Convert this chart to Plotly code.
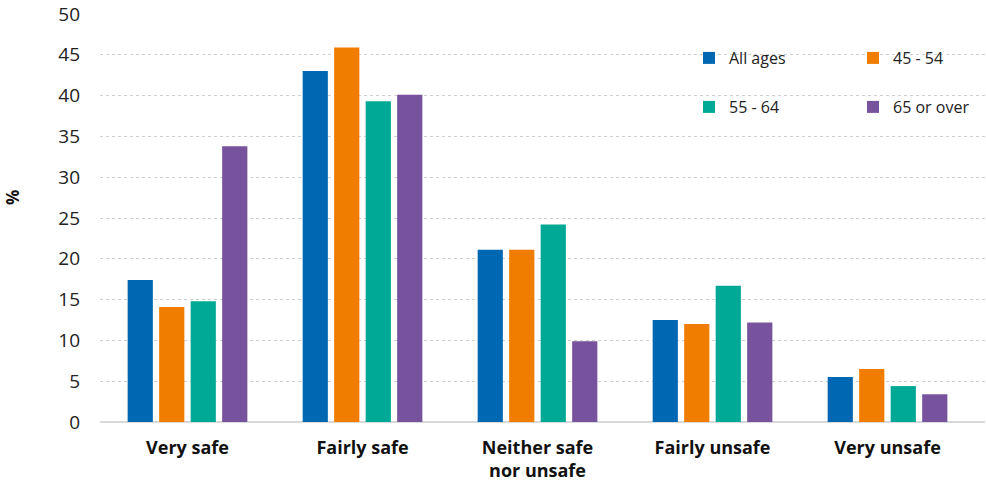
import plotly.graph_objects as go

categories = ["Very safe", "Fairly safe", "Neither safe<br>nor unsafe", "Fairly unsafe", "Very unsafe"]
all_ages = [17.4, 43.0, 21.1, 12.5, 5.5]
age_45_54 = [14.1, 45.9, 21.1, 12.0, 6.5]
age_55_64 = [14.8, 39.3, 24.2, 16.7, 4.4]
age_65_over = [33.8, 40.1, 9.9, 12.2, 3.4]
y_ticks = [0, 5, 10, 15, 20, 25, 30, 35, 40, 45, 50]

series = [
    ("All ages", all_ages, "#0068b3", "legend"),
    ("45 - 54", age_45_54, "#f07d00", "legend2"),
    ("55 - 64", age_55_64, "#00a896", "legend3"),
    ("65 or over", age_65_over, "#76539c", "legend4"),
]

FONT = "Open Sans"
W, H = 986, 481
ml, mr, mt, mb = 100, 1, 14, 59
PW, PH = W - ml - mr, H - mt - mb

fig = go.Figure()
for name, vals, color, leg in series:
    fig.add_trace(go.Bar(
        x=categories, y=vals, name=name, legend=leg,
        marker=dict(color=color, line=dict(width=0)),
    ))

leg_font = dict(family=FONT, size=16, color="#222222")
# legend positions in pixels (left edge, centre y)
leg_pos = {"legend": (689, 58), "legend2": (853, 58), "legend3": (689, 107), "legend4": (853, 107)}
legends = {}
for key, (px, py) in leg_pos.items():
    legends[key] = dict(
        xref="paper", yref="paper", x=(px - ml) / PW, y=(H - mb - py) / PH,
        xanchor="left", yanchor="middle", orientation="v",
        bgcolor="rgba(0,0,0,0)", font=leg_font, itemclick=False,
    )

fig.update_layout(
    width=W, height=H,
    margin=dict(l=ml, r=mr, t=mt, b=mb),
    paper_bgcolor="white", plot_bgcolor="white",
    barmode="group", bargap=0.28, bargroupgap=0.2,
    font=dict(family=FONT, size=17, color="#222222"),
    showlegend=True,
    **legends,
    xaxis=dict(
        range=[-0.5, 4.557], showgrid=False, showline=False, zeroline=False,
        ticks="", ticklabelstandoff=13, automargin=False,
        tickfont=dict(family=FONT, size=18, color="#111111", weight="bold"),
        fixedrange=True,
    ),
    yaxis=dict(
        range=[0, 50], tickvals=y_ticks, showgrid=True,
        gridcolor="#cfcfcf", griddash="dot", gridwidth=1,
        zeroline=True, zerolinecolor="#d9d9d9", zerolinewidth=2,
        showline=False, ticks="", ticklabelstandoff=19, automargin=False,
        tickfont=dict(family=FONT, size=19, color="#222222"),
        fixedrange=True,
    ),
    annotations=[dict(
        text="<b>%</b>", xref="paper", yref="paper", x=-0.0994, y=0.549,
        xanchor="center", yanchor="middle", showarrow=False, textangle=-90,
        font=dict(family=FONT, size=17, color="#111111"),
    )],
)

fig.write_html("out.html", config={"displayModeBar": False},
               post_script="document.body.style.margin='0';")
